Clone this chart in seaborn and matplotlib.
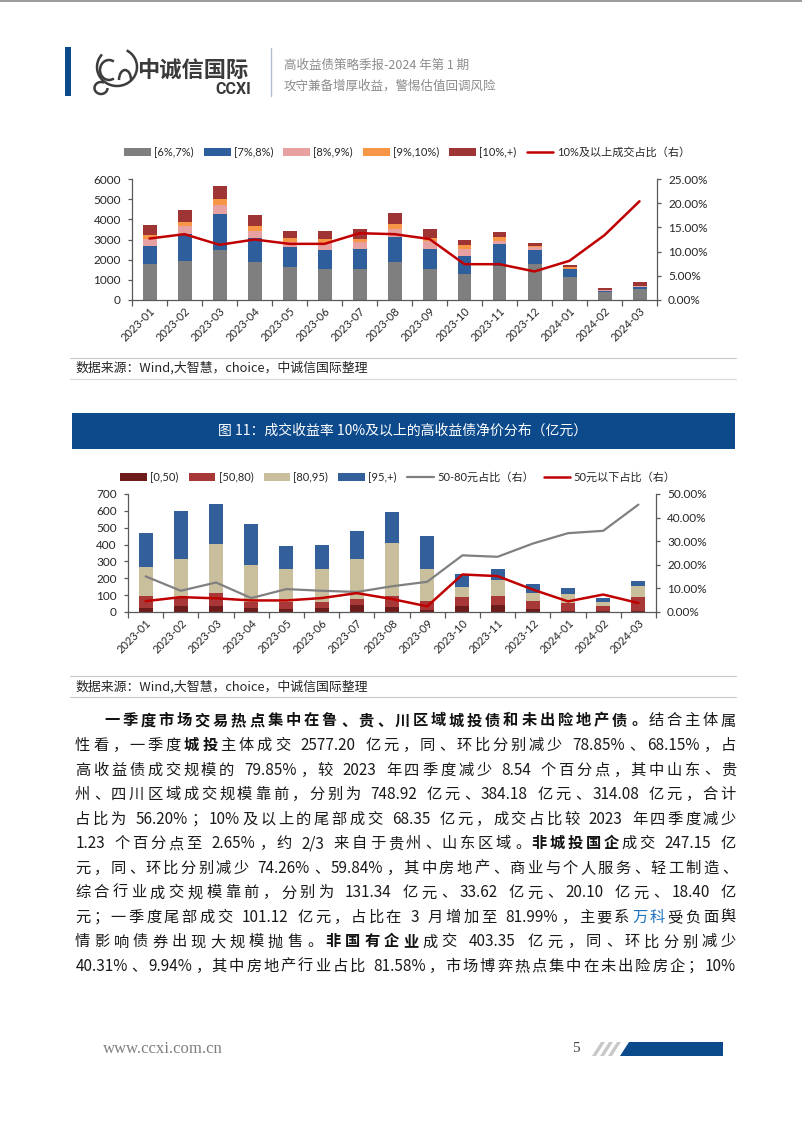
import numpy as np
import matplotlib
matplotlib.use("Agg")
import matplotlib.pyplot as plt
import seaborn as sns
from matplotlib.patches import Rectangle, Polygon, Patch, Arc
from matplotlib.lines import Line2D
from matplotlib.font_manager import FontProperties
from matplotlib.ticker import FixedLocator, FuncFormatter

# ---------------- data ----------------
months = ["2023-01", "2023-02", "2023-03", "2023-04", "2023-05", "2023-06", "2023-07",
          "2023-08", "2023-09", "2023-10", "2023-11", "2023-12", "2024-01", "2024-02", "2024-03"]

# chart 1: trading volume by yield bucket
y_6_7 = [1770, 1930, 2480, 1900, 1640, 1520, 1550, 1900, 1540, 1270, 1700, 1770, 1160, 400, 530]
y_7_8 = [920, 1330, 1770, 1160, 970, 980, 960, 1240, 990, 910, 1080, 730, 360, 60, 130]
y_8_9 = [330, 410, 480, 360, 270, 310, 380, 360, 400, 370, 150, 110, 30, 20, 20]
y_9_10 = [200, 200, 260, 270, 180, 230, 150, 250, 160, 180, 180, 80, 70, 20, 30]
y_10p = [480, 590, 660, 510, 380, 400, 480, 580, 450, 230, 260, 140, 130, 100, 170]
share_10p = [12.7, 13.6, 11.4, 12.5, 11.6, 11.6, 13.8, 13.6, 12.6, 7.4, 7.4, 5.9, 8.1, 13.4, 20.4]
legend1 = ["[6%,7%)", "[7%,8%)", "[8%,9%)", "[9%,10%)", "[10%,+)", "10%及以上成交占比（右）"]

# chart 2: net price distribution of >=10% yield bonds
p_0_50 = [22, 37, 33, 25, 19, 22, 40, 32, 12, 36, 39, 16, 7, 6, 7]
p_50_80 = [71, 53, 80, 36, 38, 37, 40, 64, 55, 53, 57, 48, 47, 29, 82]
p_80_95 = [173, 222, 289, 215, 197, 197, 236, 316, 190, 62, 91, 49, 53, 27, 64]
p_95p = [205, 288, 239, 247, 139, 140, 167, 179, 194, 72, 70, 54, 34, 24, 28]
share_50_80 = [15.1, 9.0, 12.5, 5.9, 9.7, 9.0, 8.5, 10.9, 12.8, 24.0, 23.4, 29.0, 33.4, 34.4, 45.5]
share_0_50 = [4.6, 6.3, 5.8, 4.9, 4.9, 5.9, 8.0, 5.5, 2.4, 15.9, 15.2, 9.5, 4.5, 7.4, 3.8]
legend2 = ["[0,50)", "[50,80)", "[80,95)", "[95,+)", "50-80元占比（右）", "50元以下占比（右）"]

header1 = "高收益债策略季报-2024 年第 1 期"
header2 = "攻守兼备增厚收益，警惕估值回调风险"
fig_title = "图 11：成交收益率 10%及以上的高收益债净价分布（亿元）"
source = "数据来源：Wind,大智慧，choice，中诚信国际整理"

body_lines = [
    [("一季度市场交易热点集中在鲁、贵、川区域城投债和未出险地产债。", "b"), ("结合主体属", "n")],
    [("性看，一季度", "n"), ("城投", "b"), ("主体成交 2577.20 亿元，同、环比分别减少 78.85%、68.15%，占", "n")],
    [("高收益债成交规模的 79.85%，较 2023 年四季度减少 8.54 个百分点，其中山东、贵", "n")],
    [("州、四川区域成交规模靠前，分别为 748.92 亿元、384.18 亿元、314.08 亿元，合计", "n")],
    [("占比为 56.20%；10%及以上的尾部成交 68.35 亿元，成交占比较 2023 年四季度减少", "n")],
    [("1.23 个百分点至 2.65%，约 2/3 来自于贵州、山东区域。", "n"), ("非城投国企", "b"), ("成交 247.15 亿", "n")],
    [("元，同、环比分别减少 74.26%、59.84%，其中房地产、商业与个人服务、轻工制造、", "n")],
    [("综合行业成交规模靠前，分别为 131.34 亿元、33.62 亿元、20.10 亿元、18.40 亿", "n")],
    [("元；一季度尾部成交 101.12 亿元，占比在 3 月增加至 81.99%，主要系", "n"), ("万科", "blue"), ("受负面舆", "n")],
    [("情影响债券出现大规模抛售。", "n"), ("非国有企业", "b"), ("成交 403.35 亿元，同、环比分别减少", "n")],
    [("40.31%、9.94%，其中房地产行业占比 81.58%，市场博弈热点集中在未出险房企；10%", "n")],
]

# ---------------- setup ----------------
sns.set_theme(style="ticks")
CJK = ["Noto Sans CJK SC", "DejaVu Sans"]
LAT = ["Lato", "Noto Sans CJK SC", "DejaVu Sans"]
plt.rcParams["font.family"] = LAT
plt.rcParams["axes.unicode_minus"] = False

W, H = 802, 1133
fig = plt.figure(figsize=(W / 100, H / 100), dpi=100)
fig.patch.set_facecolor("white")
page = fig.add_axes([0, 0, 1, 1], zorder=0)
page.set_xlim(0, W)
page.set_ylim(H, 0)
page.axis("off")

# ---------------- page header ----------------
page.plot([0, W], [1, 1], color="#8a8a8a", lw=1.2)
page.add_patch(Rectangle((65, 47), 6, 49, color="#0b4a8b", lw=0))
for (cx, cy, w, h, t1, t2) in [(117, 67, 40, 38, 300, 220), (109, 70, 18, 20, 60, 300),
                               (101, 88, 13, 12, 0, 300), (125, 80, 12, 20, 180, 360)]:
    page.add_patch(Arc((cx, cy), w, h, theta1=t1, theta2=t2, color="#3c3c3c", lw=1.8))
page.text(137, 71, "中诚信国际", fontsize=16, fontweight="bold", color="#3a3a3a",
          va="center", ha="left", family=CJK)
page.text(251, 90, "CCXI", fontsize=11.5, fontweight="bold", color="#3a3a3a",
          va="center", ha="right", family=["Roboto", "DejaVu Sans"])
page.plot([271, 271], [48, 96], color="#aebfd2", lw=1)
page.text(284, 65, header1, fontsize=9, color="#8c8c8c", va="center", ha="left", family=CJK)
page.text(284, 86, header2, fontsize=9, color="#8c8c8c", va="center", ha="left", family=CJK)

# ---------------- helpers ----------------
def chart_axes(left, right, top, bottom):
    return fig.add_axes([left / W, 1 - bottom / H, (right - left) / W, (bottom - top) / H], zorder=2)

TICK_C = "#262626"
SPINE_C = "#595959"

def style_axes(ax, axr, ymax, ystep, rmax, rstep):
    n = len(months)
    ax.set_xlim(-0.5, n - 0.5)
    ax.set_ylim(0, ymax)
    ax.set_yticks(np.arange(0, ymax + 1, ystep))
    ax.set_xlabel("")
    ax.set_ylabel("")
    axr.set_ylim(0, rmax)
    axr.set_yticks(np.arange(0, rmax + 0.01, rstep))
    axr.yaxis.set_major_formatter(FuncFormatter(lambda v, p: f"{v:.2f}%"))
    axr.set_ylabel("")
    for s in ["top", "right"]:
        ax.spines[s].set_visible(False)
    for s in ["top", "left", "bottom"]:
        axr.spines[s].set_visible(False)
    for sp in [ax.spines["left"], ax.spines["bottom"], axr.spines["right"]]:
        sp.set_color(SPINE_C)
        sp.set_linewidth(0.9)
    ax.patch.set_alpha(0)
    axr.patch.set_alpha(0)
    ax.set_xticks(np.arange(n))
    ax.set_xticklabels(months, rotation=45, ha="right", rotation_mode="anchor")
    ax.xaxis.set_minor_locator(FixedLocator(np.arange(-0.5, n, 1.0)))
    ax.tick_params(axis="x", which="major", length=0, pad=4, labelsize=8, labelcolor=TICK_C)
    ax.tick_params(axis="x", which="minor", length=4, width=0.9, color=SPINE_C, direction="out")
    ax.tick_params(axis="y", length=3, width=0.9, color=SPINE_C, pad=5, labelsize=8.5, labelcolor=TICK_C)
    axr.tick_params(axis="y", length=3, width=0.9, color=SPINE_C, pad=5, labelsize=8.5, labelcolor=TICK_C)
    ax.grid(False)
    axr.grid(False)


def stacked(ax, layers, colors, width):
    cum = np.cumsum(np.array(layers, dtype=float), axis=0)
    for i in reversed(range(len(layers))):
        sns.barplot(x=months, y=cum[i], color=colors[i], width=width, saturation=1,
                    errorbar=None, linewidth=0, ax=ax)

# ---------------- chart 1 ----------------
ax1 = chart_axes(132, 657, 179, 300)
colors1 = ["#7f7f7f", "#2f5e9c", "#e6a1a0", "#f79646", "#9e3434"]
stacked(ax1, [y_6_7, y_7_8, y_8_9, y_9_10, y_10p], colors1, 0.4)
ax1r = ax1.twinx()
ax1r.set_zorder(3)
sns.lineplot(x=np.arange(len(months)), y=share_10p, color="#c00000", lw=1.8, ax=ax1r)
style_axes(ax1, ax1r, 6000, 1000, 25, 5)

h1 = [Patch(facecolor=c, edgecolor="none", label=l) for c, l in zip(colors1, legend1[:5])]
h1.append(Line2D([], [], color="#c00000", lw=1.8, label=legend1[5]))
fig.legend(handles=h1, loc="center", bbox_to_anchor=(407 / W, 1 - 152 / H), ncol=6,
           frameon=False, fontsize=8, handlelength=2.4, handleheight=0.75,
           columnspacing=0.9, handletextpad=0.3, borderaxespad=0)

# source 1
page.plot([70, 736], [357.5, 357.5], color="#c8c8c8", lw=0.8)
page.text(75, 368, source, fontsize=9.3, color="#262626", va="center", ha="left", family=CJK)
page.plot([70, 736], [379, 379], color="#dadada", lw=0.8)

# title bar chart 2
page.add_patch(Rectangle((72, 413), 663, 36, color="#0c4a8c", lw=0))
page.text(403, 431, fig_title, fontsize=10, color="white", va="center", ha="center", family=CJK)

# ---------------- chart 2 ----------------
ax2 = chart_axes(128, 656, 494, 612)
colors2 = ["#6d1b1b", "#a83838", "#c9bf9d", "#33609b"]
stacked(ax2, [p_0_50, p_50_80, p_80_95, p_95p], colors2, 0.4)
ax2r = ax2.twinx()
ax2r.set_zorder(3)
sns.lineplot(x=np.arange(len(months)), y=share_50_80, color="#808080", lw=1.6, ax=ax2r)
sns.lineplot(x=np.arange(len(months)), y=share_0_50, color="#c00000", lw=1.8, ax=ax2r)
style_axes(ax2, ax2r, 700, 100, 50, 10)

h2 = [Patch(facecolor=c, edgecolor="none", label=l) for c, l in zip(colors2, legend2[:4])]
h2.append(Line2D([], [], color="#808080", lw=1.6, label=legend2[4]))
h2.append(Line2D([], [], color="#c00000", lw=1.8, label=legend2[5]))
fig.legend(handles=h2, loc="center", bbox_to_anchor=(398 / W, 1 - 477 / H), ncol=6,
           frameon=False, fontsize=8, handlelength=2.4, handleheight=0.75,
           columnspacing=0.9, handletextpad=0.3, borderaxespad=0)

# source 2
page.plot([70, 736], [676, 676], color="#c8c8c8", lw=0.8)
page.text(75, 687, source, fontsize=9.3, color="#262626", va="center", ha="left", family=CJK)
page.plot([70, 736], [697, 697], color="#c8c8c8", lw=0.8)

# ---------------- body text (justified) ----------------
renderer = fig.canvas.get_renderer()
FS = 11
EM = FS * 100 / 72
PUNCT = set("，。、；：")
style_color = {"n": "#1a1a1a", "b": "#111111", "blue": "#1e73be"}
style_weight = {"n": "normal", "b": "bold", "blue": "normal"}


def tokenize(segs):
    toks = []
    for text, st in segs:
        run = ""
        for c in text:
            if c == " ":
                if run:
                    toks.append((run, st, "a"))
                    run = ""
                toks.append((" ", st, "s"))
            elif ord(c) > 0x2000:
                if run:
                    toks.append((run, st, "a"))
                    run = ""
                toks.append((c, st, "w"))
            else:
                run += c
        if run:
            toks.append((run, st, "a"))
    return toks


def tok_width(tok, st, kind):
    if kind == "w":
        return EM
    if kind == "s":
        return 0.25 * EM
    fp = FontProperties(family=CJK, size=FS, weight=style_weight[st])
    w, h, d = renderer.get_text_width_height_descent(tok, fp, ismath=False)
    return w + 0.06 * EM


RIGHT = 736
for i, segs in enumerate(body_lines):
    toks = tokenize(segs)
    widths = [tok_width(*t) for t in toks]
    left = 104 if i == 0 else 75
    gap = (RIGHT - left - sum(widths)) / (len(toks) - 1)
    x = left
    ybase = 720 + i * 24.55 + 5.5
    for (tok, st, kind), w in zip(toks, widths):
        if kind == "w":
            if tok in PUNCT:
                page.text(x + 0.08 * EM, ybase, tok, fontsize=FS, family=CJK, ha="left", va="baseline",
                          color=style_color[st], fontweight=style_weight[st])
            else:
                page.text(x + w / 2, ybase, tok, fontsize=FS, family=CJK, ha="center", va="baseline",
                          color=style_color[st], fontweight=style_weight[st])
        elif kind == "a":
            page.text(x + 0.03 * EM, ybase, tok, fontsize=FS, family=CJK, ha="left", va="baseline",
                      color=style_color[st], fontweight=style_weight[st])
        x += w + gap

# ---------------- footer ----------------
page.text(103, 1049, "www.ccxi.com.cn", fontsize=12, color="#7f7f7f", va="center", ha="left",
          family=["Liberation Serif", "DejaVu Serif"])
page.text(572, 1049, "5", fontsize=11, color="#404040", va="center", ha="left",
          family=["Liberation Serif", "DejaVu Serif"])
for bx in [592, 600, 608]:
    page.add_patch(Polygon([(bx, 1056), (bx + 4, 1056), (bx + 13, 1042), (bx + 9, 1042)],
                           closed=True, color="#c8c8c8", lw=0))
page.add_patch(Polygon([(620, 1056), (723, 1056), (723, 1042), (629, 1042)],
                       closed=True, color="#0b4a8b", lw=0))

fig.savefig("out.png", dpi=100, facecolor="white")
